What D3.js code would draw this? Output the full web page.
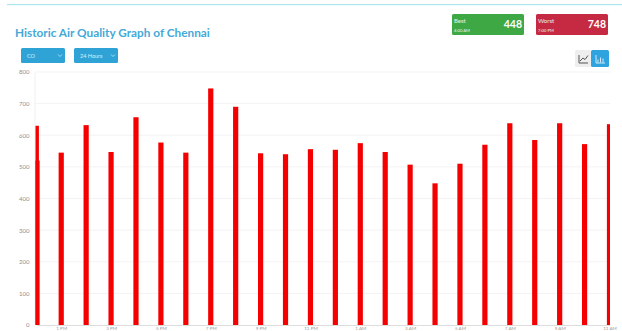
<!DOCTYPE html>
<html>
<head>
<meta charset="utf-8">
<script src="https://cdn.jsdelivr.net/npm/d3@7"></script>
<style>
html,body{margin:0;padding:0;background:#fff;overflow:hidden}
svg{display:block;font-family:Lato,"Open Sans",sans-serif}
</style>
</head>
<body>
<svg id="chart" width="622" height="331"></svg>
<script>
// Hourly CO readings for Chennai over the last 24 hours
const hours = ["12 PM","1 PM","2 PM","3 PM","4 PM","5 PM","6 PM","7 PM","8 PM","9 PM","10 PM","11 PM",
               "12 AM","1 AM","2 AM","3 AM","4 AM","5 AM","6 AM","7 AM","8 AM","9 AM","10 AM","11 AM"];
const coValues = [630,545,632,547,657,577,545,748,690,543,540,556,
                  554,575,547,507,448,510,570,638,585,638,572,635];
const overlapValues = [520];
const yTicks = [0,100,200,300,400,500,600,700,800];
const labelledHours = hours.filter((_, i) => i % 2 === 1);
const selectors = ["CO","24 Hours"];
const bestCard = {label:"Best", time:"4:00 AM", value:448};
const worstCard = {label:"Worst", time:"7:00 PM", value:748};

const svg = d3.select("#chart");
const plot = {left:35.5, right:610, top:72, bottom:325};

const y = d3.scaleLinear().domain([0,800]).range([plot.bottom, plot.top]);
const x = d3.scalePoint().domain(hours).range([36.3, 609.5]);

// Top rule of the panel
svg.append("rect").attr("x",7).attr("y",4).attr("width",615).attr("height",1.2).attr("fill","#aee6ee");

// Heading
svg.append("text").attr("x",15).attr("y",37)
  .attr("font-size",11.8).attr("font-weight",700).attr("fill","#45a9d8")
  .text("Historic Air Quality Graph of Chennai");

// Dropdown buttons
const buttons = svg.selectAll("g.select").data(selectors).join("g")
  .attr("class","select").attr("transform",(d,i)=>`translate(${21+i*53},48)`);
buttons.append("rect").attr("width",44).attr("height",15).attr("rx",1.5).attr("fill","#2fa3d6");
buttons.append("text").attr("x",6).attr("y",10).attr("font-size",5.5).attr("fill","#d8f0fa").text(d=>d);
buttons.append("path").attr("d","M37 6.5l2 2 2-2").attr("fill","none").attr("stroke","#d8f0fa").attr("stroke-width",.7);

// Best / worst summary cards
const cards = svg.selectAll("g.card").data([bestCard,worstCard]).join("g")
  .attr("class","card").attr("transform",(d,i)=>`translate(${452+i*84},14)`);
cards.append("rect").attr("width",72).attr("height",21).attr("rx",1.5)
  .attr("fill",(d,i)=>i?"#c62a42":"#3ea845");
cards.append("text").attr("x",2).attr("y",8.5).attr("font-size",6).attr("fill","#e6f3e6").text(d=>d.label);
cards.append("text").attr("x",2).attr("y",18).attr("font-size",4.2).attr("fill","#eef5ee").text(d=>d.time);
cards.append("text").attr("x",70).attr("y",13.5).attr("text-anchor","end")
  .attr("font-size",10.5).attr("font-weight",700).attr("fill","#fff").text(d=>d.value);

// Chart type toggle
const toggle = svg.append("g").attr("transform","translate(575,50)");
toggle.append("rect").attr("width",16).attr("height",17).attr("rx",1.5).attr("fill","#eeeeee");
toggle.append("path").attr("d","M4 5v8h9M5 11l3-3 2 1.5 3-4").attr("fill","none").attr("stroke","#555").attr("stroke-width",1);
toggle.append("rect").attr("x",16).attr("width",18).attr("height",17).attr("rx",1.5).attr("fill","#2fa3e0");
toggle.append("path").attr("d","M21 5v8h9M23 12.5v-3M25.5 12.5v-5M28 12.5v-4").attr("fill","none").attr("stroke","#cfeaf8").attr("stroke-width",1);

// Horizontal grid
svg.append("g").selectAll("line").data(yTicks.slice(1)).join("line")
  .attr("x1",plot.left).attr("x2",plot.right).attr("y1",d=>y(d)).attr("y2",d=>y(d))
  .attr("stroke","#f3f3f3");

// Y axis
const yAxis = svg.append("g").attr("transform",`translate(${plot.left-1},0)`)
  .call(d3.axisLeft(y).tickValues(yTicks).tickSize(0).tickPadding(5));
yAxis.select(".domain").attr("stroke","#f0f0f0");
yAxis.selectAll("text").attr("font-size",6).attr("fill","#8f8f8f").attr("font-family","Lato,sans-serif");

// X axis, with small labels that fit in the strip under the plot
const xAxis = svg.append("g").attr("transform",`translate(0,${plot.bottom})`)
  .call(d3.axisBottom(x).tickValues(labelledHours).tickSize(0).tickPadding(0));
xAxis.select(".domain").attr("stroke","#dddddd");
xAxis.selectAll("text").attr("font-size",4.6).attr("dy",0).attr("y",5.2)
  .attr("fill","#9a9a9a").attr("font-family","Lato,sans-serif");

// Bars are clipped to the plot area
svg.append("clipPath").attr("id","plot-clip").append("rect")
  .attr("x",plot.left).attr("y",plot.top)
  .attr("width",plot.right-plot.left).attr("height",plot.bottom-plot.top);

const barWidth = 5.2;
const bars = svg.append("g").attr("clip-path","url(#plot-clip)");
bars.selectAll("rect.co").data(hours.map((h,i)=>({h,v:coValues[i]}))).join("rect")
  .attr("class","co")
  .attr("x",d=>x(d.h)-barWidth/2).attr("width",barWidth)
  .attr("y",d=>y(d.v)).attr("height",d=>y(0)-y(d.v))
  .attr("fill","#f50000");
// Second reading that overlaps the first hour's bar
bars.selectAll("rect.overlap").data(overlapValues).join("rect")
  .attr("class","overlap")
  .attr("x",x(hours[0])+0.7-barWidth/2).attr("width",barWidth)
  .attr("y",d=>y(d)).attr("height",d=>y(0)-y(d))
  .attr("fill","#f50000");
</script>
</body>
</html>
